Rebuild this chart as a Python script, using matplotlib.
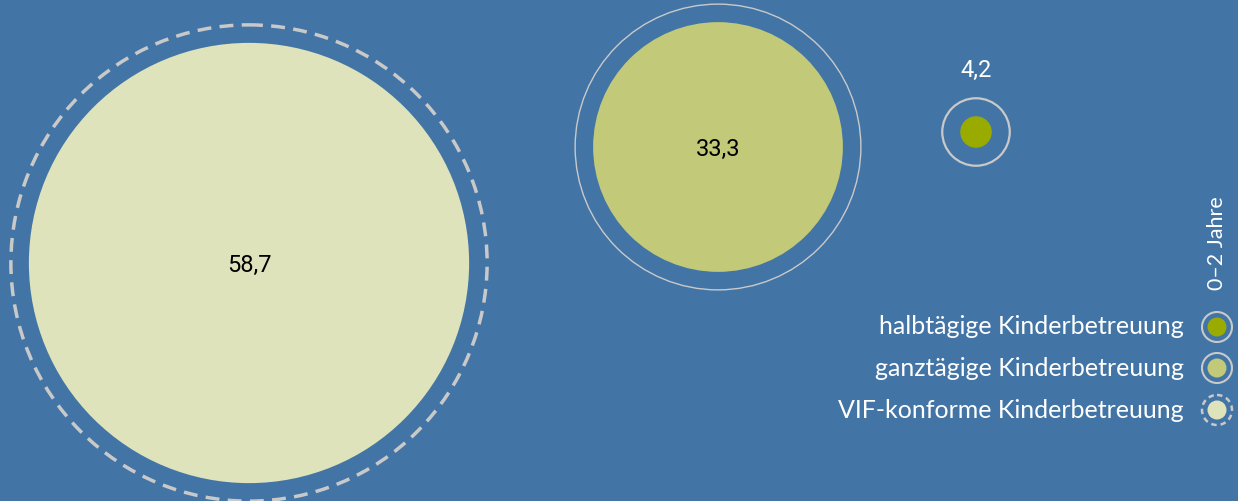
import matplotlib
matplotlib.use('Agg')
import matplotlib.pyplot as plt
from matplotlib.patches import Circle

# Daten
kategorien = ["VIF-konforme Kinderbetreuung", "ganztägige Kinderbetreuung", "halbtägige Kinderbetreuung"]
werte = [58.7, 33.3, 4.2]
labels = ["58,7", "33,3", "4,2"]
farben = ["#dee3bc", "#c2c978", "#9aab00"]
gruppe = "0–2 Jahre"

bg = "#4275a5"
ring = "#c9c9c9"

fig = plt.figure(figsize=(12.38, 5.01), dpi=100)
fig.patch.set_facecolor(bg)
ax = fig.add_axes([0, 0, 1, 1])
ax.set_facecolor(bg)
ax.set_xlim(0, 1238)
ax.set_ylim(501, 0)
ax.axis('off')

# Skala: Radius in Pixeln pro Wert
k = 3.75
gap = 18
zentren = [(249, 263), (718, 147), (976, 132)]

for i, (w, lab, col) in enumerate(zip(werte, labels, farben)):
    cx, cy = zentren[i]
    r = w * k
    ax.add_patch(Circle((cx, cy), r, facecolor=col, edgecolor='none'))
    if i == 0:
        ax.add_patch(Circle((cx, cy), r + gap, facecolor='none', edgecolor=ring,
                            lw=2.5, linestyle=(0, (4, 2.4))))
    elif i == 1:
        ax.add_patch(Circle((cx, cy), r + gap, facecolor='none', edgecolor=ring, lw=1.0))
    else:
        ax.add_patch(Circle((cx, cy), r + gap, facecolor='none', edgecolor=ring, lw=1.6))
    if i < 2:
        ax.text(cx, cy + 2, lab, ha='center', va='center', fontsize=17,
                family='Roboto', color='black')
    else:
        ax.text(cx, cy - r - gap - 28, lab, ha='center', va='center', fontsize=17,
                family='Roboto', color='white')

# Legende
leg_x = 1217
leg_y = [410, 368, 327]
for i, (kat, col) in enumerate(zip(kategorien, farben)):
    y = leg_y[i]
    ax.add_patch(Circle((leg_x, y), 9.5, facecolor=col, edgecolor='none'))
    if i == 0:
        ax.add_patch(Circle((leg_x, y), 15, facecolor='none', edgecolor=ring,
                            lw=1.8, linestyle=(0, (2.2, 1.6))))
    else:
        ax.add_patch(Circle((leg_x, y), 15, facecolor='none', edgecolor=ring, lw=1.5))
    ax.text(1184, y, kat, ha='right', va='center', fontsize=18,
            family='Lato', color='white')

ax.text(leg_x, 243, gruppe, rotation=90, ha='center', va='center', fontsize=15.5,
        family='Lato', color='white')

plt.savefig("out.png", dpi=100, facecolor=bg)
